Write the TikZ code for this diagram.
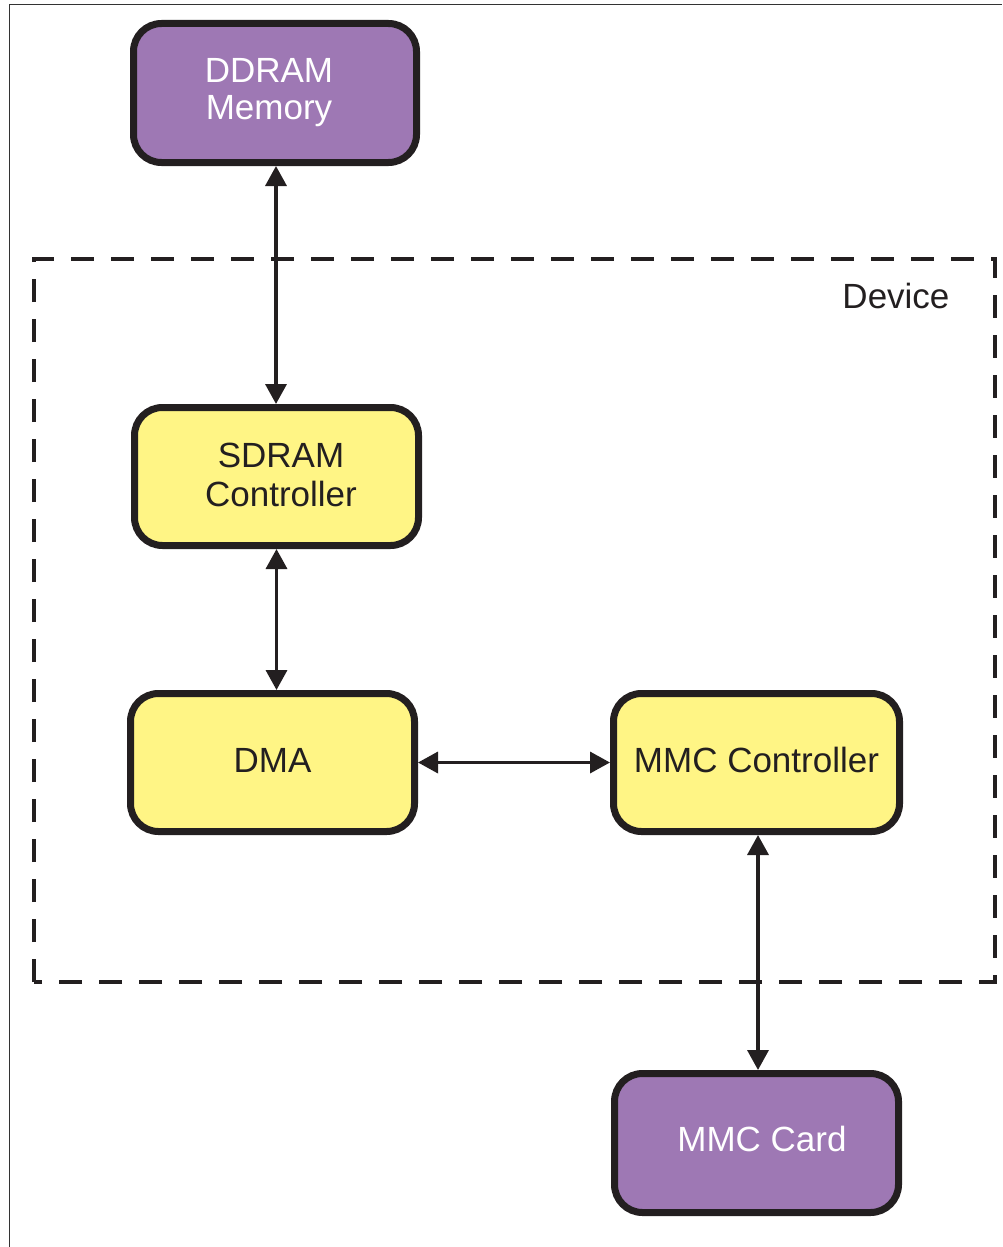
\documentclass[tikz,border=0pt]{standalone}
\usepackage{fontspec}
\setmainfont{Liberation Sans}
\usetikzlibrary{arrows.meta,calc}
\definecolor{boxline}{HTML}{231F20}
\definecolor{purplefill}{HTML}{9E78B4}
\definecolor{yellowfill}{HTML}{FFF585}
\begin{document}
\begin{tikzpicture}[x=1pt,y=-1pt,
  blk/.style={draw=boxline, line width=7pt, rounded corners=28pt, align=center,
    font=\fontsize{35}{39}\selectfont, inner sep=0pt},
  purpleblk/.style={blk, fill=purplefill, text=white},
  yellowblk/.style={blk, fill=yellowfill, text=boxline},
  link/.style={draw=boxline, line width=3.5pt, {Triangle[width=21pt,length=20pt]}-{Triangle[width=21pt,length=20pt]}},
  devbox/.style={draw=boxline, line width=4.5pt, dash pattern=on 23pt off 17pt}]
\useasboundingbox (0,0) rectangle (1002,1247);
\draw[line width=1pt, draw=black!80] (9.5,1247) -- (9.5,5) -- (1002,5);
% device boundary
\draw[devbox] (34,982) -- (34,259) -- (995,259) -- (995,982) -- cycle;
\node[anchor=base east, font=\fontsize{35}{39}\selectfont, text=boxline] (devlabel) at (953,308) {Device};
% blocks
\node[purpleblk, minimum width=283pt, minimum height=139pt] (ddram) at (275,93) {DDRAM\hspace*{12pt}\\[-2pt]Memory\hspace*{12pt}\raisebox{0pt}[0pt][4pt]{}};
\node[yellowblk, minimum width=284pt, minimum height=138pt] (sdram) at (276.5,476.5) {\hspace*{9pt}SDRAM\\\hspace*{9pt}Controller\raisebox{0pt}[0pt][3pt]{}};
\node[yellowblk, minimum width=284pt, minimum height=138pt] (dma) at (272.5,762.5) {DMA\raisebox{0pt}[0pt][4pt]{}};
\node[yellowblk, minimum width=286pt, minimum height=138pt] (mmc) at (756.5,762.5) {MMC Controller\raisebox{0pt}[0pt][5pt]{}};
\node[purpleblk, minimum width=284pt, minimum height=139pt] (card) at (756.5,1143) {\hspace*{11pt}MMC Card\raisebox{0pt}[0pt][8pt]{}};
% connectors
\draw[link] ($(ddram.south)+(1,0)$) -- ($(ddram.south |- sdram.north)+(1,0)$);
\draw[link] (sdram.south) -- (sdram.south |- dma.north);
\draw[link] (dma.east) -- (mmc.west);
\draw[link] ($(mmc.south)+(1.5,0)$) -- ($(mmc.south |- card.north)+(1.5,0)$);
\end{tikzpicture}
\end{document}
